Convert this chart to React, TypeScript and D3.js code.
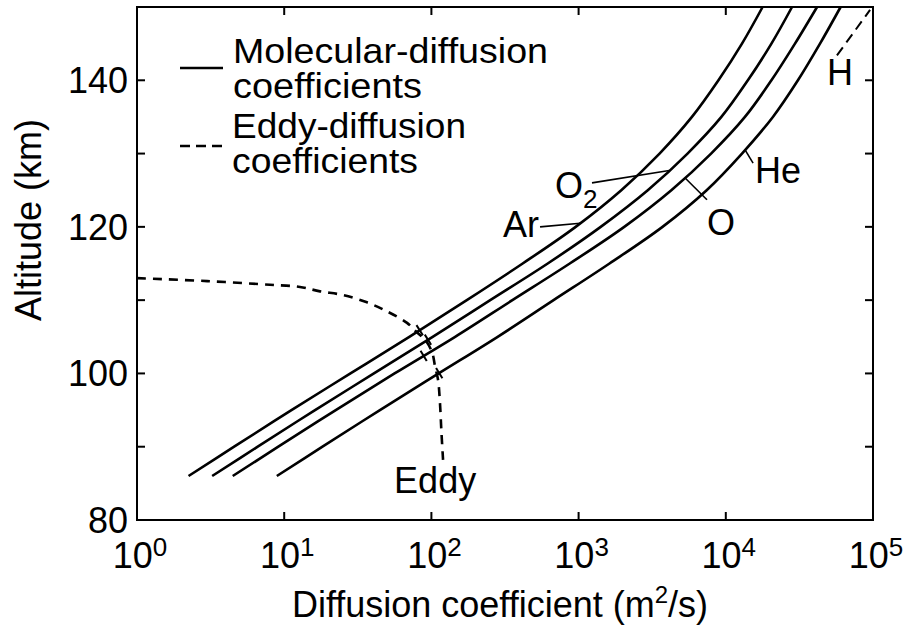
import React from 'react';
import * as d3 from 'd3';

// Altitude grid (km) for the molecular-diffusion curves
const altitudes = [86, 90, 95, 100, 105, 110, 115, 120, 125, 130, 135, 140, 145, 150];
// Molecular diffusion coefficients (m^2/s)
const arD = [2.24, 4.57, 11.2, 28.2, 70.8, 174, 417, 955, 1950, 3548, 5888, 8913, 12882, 17783];
const o2D = [3.24, 6.61, 16.2, 40.7, 102, 251, 617, 1413, 2951, 5495, 9333, 14125, 20417, 28184];
const oD = [4.47, 9.12, 22.4, 56.2, 145, 355, 871, 2042, 4266, 7943, 13490, 20417, 29512, 41687];
const heD = [8.91, 18.2, 44.7, 112, 282, 676, 1622, 3715, 7413, 12882, 20893, 30903, 43652, 60256];

// Eddy diffusion coefficient
const eddyAlt = [113.0, 112.6, 112.1, 111.8, 111.2, 110.7, 109.7, 108.4, 106.9, 105.6, 104.6, 102.9, 100.9, 99.1, 96.4, 92.0, 88.2];
const eddyD = [1, 3, 8, 12.8, 17.5, 25.1, 36.5, 50.7, 68.3, 79.8, 90.5, 101, 106, 111, 114, 117, 120];

// Axis ticks
const xTickExps = [0, 1, 2, 3, 4, 5];
const yTickValues = [80, 90, 100, 110, 120, 130, 140, 150];
const yTickLabels = [80, 100, 120, 140];

// Turbopause crossing altitudes for Ar, O2, O, He
const turboAlt = [105.9, 104.6, 102.4, 100.05];

const W = 905;
const H = 628;
const L = 137, R = 873, T = 7, B = 520;
const FONT = 'Liberation Sans, Arial, Helvetica, sans-serif';

export default function App() {
  const x = d3.scaleLog().domain([1, 1e5]).range([L, R]);
  const y = d3.scaleLinear().domain([80, 150]).range([B, T]);

  const series = [arD, o2D, oD, heD];
  const line = d3
    .line<[number, number]>()
    .x((d) => x(d[0]))
    .y((d) => y(d[1]))
    .curve(d3.curveCatmullRom.alpha(0.5));

  const interpAt = (dArr: number[], alt: number) => {
    const s = d3.scaleLinear().domain(altitudes).range(dArr.map(Math.log10));
    return Math.pow(10, s(alt));
  };

  const ptOn = (dArr: number[], alt: number) => [x(interpAt(dArr, alt)), y(alt)];

  // turbopause ticks: short segments perpendicular to the curve
  const turboTicks = series.map((dArr, i) => {
    const a = turboAlt[i];
    const p0 = ptOn(dArr, a - 1);
    const p1 = ptOn(dArr, a + 1);
    const p = ptOn(dArr, a);
    const dx = p1[0] - p0[0];
    const dy = p1[1] - p0[1];
    const len = Math.hypot(dx, dy);
    const nx = -dy / len, ny = dx / len;
    return { x1: p[0] - nx * 6, y1: p[1] - ny * 6, x2: p[0] + nx * 6, y2: p[1] + ny * 6 };
  });

  const arPt = ptOn(arD, 120.5);
  const o2Pt = ptOn(o2D, 127.7);
  const oPt = ptOn(oD, 126.7);
  const hePt = ptOn(heD, 130.5);

  const fs = 36;

  return (
    <svg
      width={W}
      height={H}
      style={{ position: 'absolute', left: 0, top: 0, background: '#fff' }}
      fontFamily={FONT}
    >
      <rect x={0} y={0} width={W} height={H} fill="#fff" />
      {/* molecular curves */}
      {series.map((dArr, i) => (
        <path
          key={i}
          d={line(altitudes.map((a, j) => [dArr[j], a]) as [number, number][]) || ''}
          fill="none"
          stroke="#000"
          strokeWidth={2.6}
        />
      ))}
      {/* eddy curve */}
      <path
        d={line(eddyAlt.map((a, j) => [eddyD[j], a]) as [number, number][]) || ''}
        fill="none"
        stroke="#000"
        strokeWidth={2.6}
        strokeDasharray="9,7"
      />
      {turboTicks.map((t, i) => (
        <line key={i} x1={t.x1} y1={t.y1} x2={t.x2} y2={t.y2} stroke="#000" strokeWidth={2} />
      ))}

      {/* frame */}
      <rect x={L} y={T} width={R - L} height={B - T} fill="none" stroke="#000" strokeWidth={2} />
      {/* x ticks */}
      {xTickExps.map((e) => {
        const xx = x(Math.pow(10, e));
        return (
          <g key={'xt' + e}>
            <line x1={xx} x2={xx} y1={B} y2={B - 8} stroke="#000" strokeWidth={2} />
            <line x1={xx} x2={xx} y1={T} y2={T + 8} stroke="#000" strokeWidth={2} />
            <text x={xx + 3} y={568} fontSize={fs} textAnchor="middle">
              10
              <tspan fontSize={26} dy={-12}>
                {e}
              </tspan>
            </text>
          </g>
        );
      })}
      {/* y ticks */}
      {yTickValues.map((v) => (
        <g key={'yt' + v}>
          <line x1={L} x2={L + 8} y1={y(v)} y2={y(v)} stroke="#000" strokeWidth={2} />
          <line x1={R} x2={R - 8} y1={y(v)} y2={y(v)} stroke="#000" strokeWidth={2} />
        </g>
      ))}
      {yTickLabels.map((v) => (
        <text key={'yl' + v} x={128} y={y(v) + 13} fontSize={fs} textAnchor="end">
          {v}
        </text>
      ))}

      {/* axis titles */}
      <text x={500} y={617} fontSize={fs} textAnchor="middle">
        Diffusion coefficient (m
        <tspan fontSize={24} dy={-14}>2</tspan>
        <tspan dy={14}>/s)</tspan>
      </text>
      <text
        transform={`translate(41, 220) rotate(-90)`}
        fontSize={fs}
        textAnchor="middle"
      >
        Altitude (km)
      </text>

      {/* legend */}
      <line x1={180} x2={223} y1={68} y2={68} stroke="#000" strokeWidth={2.6} />
      <text x={233} y={63} fontSize={35} textLength={315} lengthAdjust="spacingAndGlyphs">Molecular-diffusion</text>
      <text x={233} y={98} fontSize={35} textLength={189} lengthAdjust="spacingAndGlyphs">coefficients</text>
      <line x1={180} x2={223} y1={146} y2={146} stroke="#000" strokeWidth={2.6} strokeDasharray="10,6" />
      <text x={232} y={138} fontSize={35} textLength={234} lengthAdjust="spacingAndGlyphs">Eddy-diffusion</text>
      <text x={232} y={173} fontSize={35} textLength={186} lengthAdjust="spacingAndGlyphs">coefficients</text>

      {/* species labels and leaders */}
      <line x1={x(547)} y1={y(120.0)} x2={arPt[0]} y2={arPt[1]} stroke="#000" strokeWidth={1.6} />
      <text x={x(307)} y={y(118.6)} fontSize={fs}>Ar</text>

      <line x1={x(1233)} y1={y(126.0)} x2={o2Pt[0]} y2={o2Pt[1]} stroke="#000" strokeWidth={1.6} />
      <text x={x(692)} y={y(123.9)} fontSize={fs}>
        O<tspan fontSize={26} dy={10}>2</tspan>
      </text>

      <line x1={oPt[0]} y1={oPt[1]} x2={x(7450)} y2={y(123.7)} stroke="#000" strokeWidth={1.6} />
      <text x={x(7450)} y={y(118.9)} fontSize={fs}>O</text>

      <line x1={hePt[0]} y1={hePt[1]} x2={x(15320)} y2={y(128.7)} stroke="#000" strokeWidth={1.6} />
      <text x={x(15780)} y={y(126.0)} fontSize={fs}>He</text>

      <line
        x1={x(56900)}
        y1={y(143.4)}
        x2={x(95500)}
        y2={y(149.6)}
        stroke="#000"
        strokeWidth={2}
        strokeDasharray="10,6"
      />
      <text x={x(48700)} y={y(139.3)} fontSize={fs}>H</text>

      <text x={x(106)} y={y(83.7)} fontSize={fs} textAnchor="middle">Eddy</text>
    </svg>
  );
}
